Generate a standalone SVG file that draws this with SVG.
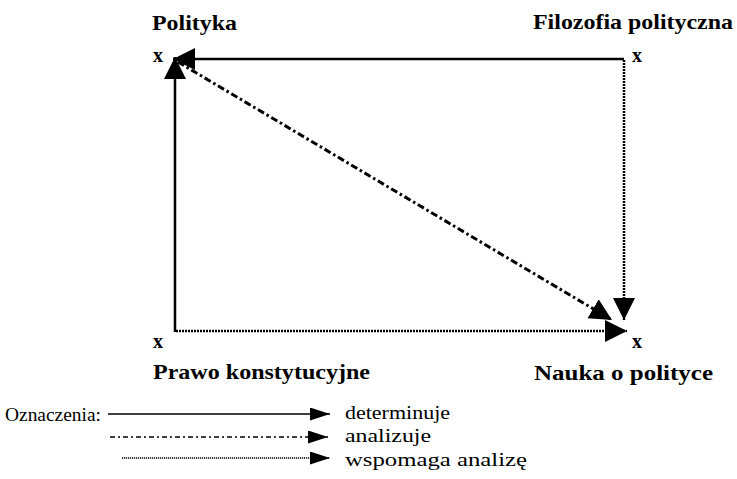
<svg xmlns="http://www.w3.org/2000/svg" width="737" height="479" viewBox="0 0 737 479">
<style>
.lbl{font-weight:bold;font-size:21px}
.x{font-weight:bold;font-size:20px}
.leg{font-size:19px}
.solid{stroke:#000;stroke-width:2.5;fill:none}
.dashdot{stroke:#000;stroke-width:3;fill:none;stroke-dasharray:7 3 2.5 3}
.dotted{stroke:#000;stroke-width:2.5;fill:none;stroke-dasharray:2 1}
.lsolid{stroke:#000;stroke-width:1.5;fill:none}
.ldashdot{stroke:#000;stroke-width:1.5;fill:none;stroke-dasharray:5 3 2 3}
.ldotted{stroke:#000;stroke-width:1.4;fill:none;stroke-dasharray:1.2 0.8}
</style>
<defs>
<marker id="ah" markerUnits="userSpaceOnUse" markerWidth="24" markerHeight="24" refX="22" refY="11" orient="auto" viewBox="0 0 24 24">
<path d="M0,0 L22,11 L0,22 z" fill="#000"/>
</marker>
<marker id="lah" markerUnits="userSpaceOnUse" markerWidth="22" markerHeight="16" refX="20" refY="6.5" orient="auto" viewBox="0 0 22 16">
<path d="M0,0 L20,6.5 L0,13 z" fill="#000"/>
</marker>
</defs>

<g font-family="Liberation Serif, DejaVu Serif, serif" fill="#000">
<g id="node-polityka">
<text class="lbl" x="152" y="30" textLength="85" lengthAdjust="spacingAndGlyphs">Polityka</text>
<text class="x" x="153" y="62">x</text>
</g>
<g id="node-filozofia">
<text class="lbl" x="533" y="29" textLength="200" lengthAdjust="spacingAndGlyphs">Filozofia polityczna</text>
<text class="x" x="632" y="62">x</text>
</g>
<g id="node-prawo">
<text class="x" x="153" y="348">x</text>
<text class="lbl" x="153" y="379" textLength="217" lengthAdjust="spacingAndGlyphs">Prawo konstytucyjne</text>
</g>
<g id="node-nauka">
<text class="x" x="632" y="348">x</text>
<text class="lbl" x="534" y="380" textLength="179" lengthAdjust="spacingAndGlyphs">Nauka o polityce</text>
</g>
</g>

<g id="connectors">
<line class="solid" x1="624" y1="59" x2="173" y2="59" marker-end="url(#ah)"/>
<line class="solid" x1="175" y1="332" x2="175" y2="57" marker-end="url(#ah)"/>
<line class="dotted" x1="624" y1="60" x2="624" y2="320" marker-end="url(#ah)"/>
<line class="dotted" x1="176" y1="331" x2="627" y2="331" marker-end="url(#ah)"/>
<line class="dashdot" x1="178" y1="62" x2="612" y2="320" marker-end="url(#ah)"/>
</g>

<g id="legend" font-family="Liberation Serif, DejaVu Serif, serif" fill="#000">
<text class="leg" x="5" y="421" textLength="96" lengthAdjust="spacingAndGlyphs">Oznaczenia:</text>
<line class="lsolid" x1="108" y1="414" x2="330" y2="414" marker-end="url(#lah)"/>
<line class="ldashdot" x1="110" y1="437" x2="328" y2="437" marker-end="url(#lah)"/>
<line class="ldotted" x1="122" y1="458" x2="330" y2="458" marker-end="url(#lah)"/>
<text class="leg" x="345" y="419" textLength="105" lengthAdjust="spacingAndGlyphs">determinuje</text>
<text class="leg" x="345" y="442" textLength="86" lengthAdjust="spacingAndGlyphs">analizuje</text>
<text class="leg" x="345" y="466" textLength="182" lengthAdjust="spacingAndGlyphs">wspomaga analizę</text>
</g>
</svg>
